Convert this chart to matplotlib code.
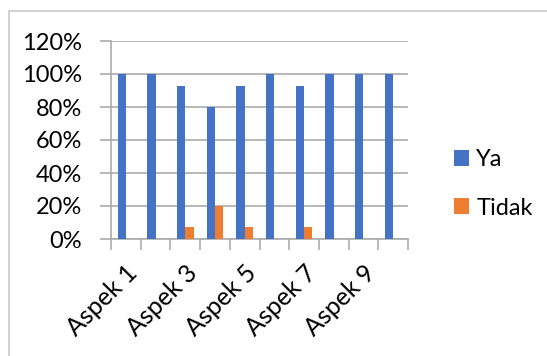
import matplotlib
matplotlib.use("Agg")
import matplotlib.pyplot as plt
from matplotlib.patches import Rectangle
from matplotlib.ticker import PercentFormatter

# data
categories = ["Aspek %d" % i for i in range(1, 11)]
ya = [1.00, 1.00, 0.93, 0.80, 0.93, 1.00, 0.93, 1.00, 1.00, 1.00]
tidak = [0.0, 0.0, 0.07, 0.20, 0.07, 0.0, 0.07, 0.0, 0.0, 0.0]
series_names = ["Ya", "Tidak"]
colors = ["#4472C4", "#ED7D31"]

plt.rcParams['font.family'] = ['Lato', 'DejaVu Sans']
fs = 17
grid_c = "#ababab"

W, H = 547, 356
fig = plt.figure(figsize=(W / 100, H / 100), dpi=100)
ax = fig.add_axes([111 / W, 1 - 239 / H, 297 / W, 198 / H])

# outer chart border
fig.patches.append(Rectangle((9 / W, -0.1), 1.2, 1 - 11 / H + 0.1, transform=fig.transFigure,
                             fill=False, edgecolor="#c8c8c8", linewidth=1.2))

centers = [i + 0.5 for i in range(len(categories))]
bw = 0.28
ax.bar([c - bw / 2 for c in centers], ya, width=bw, color=colors[0], label=series_names[0], zorder=3)
ax.bar([c + bw / 2 for c in centers], tidak, width=bw, color=colors[1], label=series_names[1], zorder=3)

ax.set_xlim(0, len(categories))
ax.set_ylim(0, 1.2)
ax.set_yticks([0, 0.2, 0.4, 0.6, 0.8, 1.0, 1.2])
ax.yaxis.set_major_formatter(PercentFormatter(1.0, decimals=0))
ax.tick_params(axis='y', length=8, color=grid_c, width=1.2, labelsize=fs, pad=13)
ax.grid(axis='y', color=grid_c, linewidth=1.2, zorder=0)

# ticks at category boundaries, labels at every other category center
ax.set_xticks(range(len(categories) + 1))
ax.set_xticklabels([])
ax.tick_params(axis='x', which='major', length=8, color=grid_c, width=1.2)
ax.set_xticks(centers[::2], minor=True)
ax.set_xticklabels(categories[::2], minor=True, rotation=45, ha='right', va='top',
                   rotation_mode='anchor', fontsize=18)
ax.tick_params(axis='x', which='minor', length=0, pad=16)

for s in ['top', 'right']:
    ax.spines[s].set_visible(False)
for s in ['left', 'bottom']:
    ax.spines[s].set_color(grid_c)
    ax.spines[s].set_linewidth(1.2)

fig.legend(loc='center left', bbox_to_anchor=(454 / W, 1 - 184 / H), frameon=False,
           fontsize=fs, handlelength=0.64, handleheight=0.64, handletextpad=0.3,
           labelspacing=1.15, borderpad=0, borderaxespad=0)

fig.savefig("out.png", dpi=100)
